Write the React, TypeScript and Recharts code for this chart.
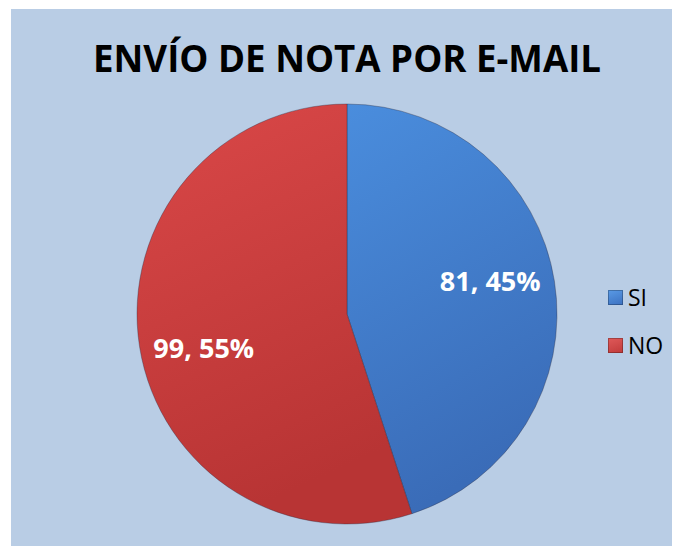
import React from "react"
import { PieChart, Pie, Cell, Legend } from "recharts"

const categories = ["SI", "NO"]
const counts = [81, 99]
const fills = ["url(#gradSi)", "url(#gradNo)"]
const legendColors = ["#3b70c0", "#c03a3a"]

const data = categories.map((name, i) => ({ name, value: counts[i] }))
const total = counts.reduce((a, b) => a + b, 0)

const RAD = Math.PI / 180

// Excel puts the labels a bit inside the slice, slightly rotated
const renderLabel = (props: any) => {
  const { cx, cy, midAngle, outerRadius, value } = props
  const r = outerRadius * 0.7
  const a = (midAngle + 4) * RAD
  const x = cx + r * Math.cos(a)
  const y = cy - r * Math.sin(a)
  const pct = Math.round((value / total) * 100)
  return (
    <text
      x={x}
      y={y}
      fill="#ffffff"
      textAnchor="middle"
      dominantBaseline="central"
      fontFamily="'Open Sans', sans-serif"
      fontWeight={700}
      fontSize={27}
    >
      {`${value}, ${pct}%`}
    </text>
  )
}

const renderLegend = () => (
  <div style={{ fontFamily: "'Open Sans', sans-serif", fontSize: 23 }}>
    {categories.map((c, i) => (
      <div key={c} style={{ display: "flex", alignItems: "center", height: 48 }}>
        <span
          style={{
            width: 15,
            height: 15,
            marginRight: 5,
            background: `linear-gradient(160deg, ${i === 0 ? "#5a9be6" : "#e05a5a"}, ${legendColors[i]})`,
            boxShadow: "inset 0 0 0 1px rgba(0,0,0,0.25)",
          }}
        />
        <span style={{ color: "#000", lineHeight: 1 }}>{c}</span>
      </div>
    ))}
  </div>
)

export default function App() {
  return (
    <div style={{ position: "relative", width: 669, height: 537, marginLeft: 3, marginTop: 1, background: "#b9cde5" }}>
      <svg width={669} height={80} style={{ position: "absolute", left: 0, top: 0 }}>
        <text
          x={336}
          y={63}
          textAnchor="middle"
          fontFamily="'Open Sans', sans-serif"
          fontWeight={700}
          fontSize={37}
          textLength={508}
          lengthAdjust="spacingAndGlyphs"
          fill="#000"
        >
          ENVÍO DE NOTA POR E-MAIL
        </text>
      </svg>
      <PieChart width={669} height={537} margin={{ top: 0, right: 0, bottom: 0, left: 0 }}>
        <defs>
          <linearGradient id="gradSi" x1="0" y1="0" x2="0.3" y2="1">
            <stop offset="0%" stopColor="#4a8ddd" />
            <stop offset="100%" stopColor="#3a6cb8" />
          </linearGradient>
          <linearGradient id="gradNo" x1="0" y1="0" x2="0.3" y2="1">
            <stop offset="0%" stopColor="#da4848" />
            <stop offset="100%" stopColor="#b83434" />
          </linearGradient>
        </defs>
        <Pie
          data={data}
          dataKey="value"
          nameKey="name"
          cx={336}
          cy={305}
          outerRadius={210}
          startAngle={90}
          endAngle={-270}
          stroke="rgba(40,40,60,0.35)"
          strokeWidth={1}
          labelLine={false}
          label={renderLabel}
          isAnimationActive={false}
        >
          {data.map((entry, index) => (
            <Cell key={`cell-${index}`} fill={fills[index]} />
          ))}
        </Pie>
        <Legend
          layout="vertical"
          content={renderLegend}
          wrapperStyle={{ position: "absolute", left: 597, top: 264, width: 72 }}
        />
      </PieChart>
    </div>
  )
}
